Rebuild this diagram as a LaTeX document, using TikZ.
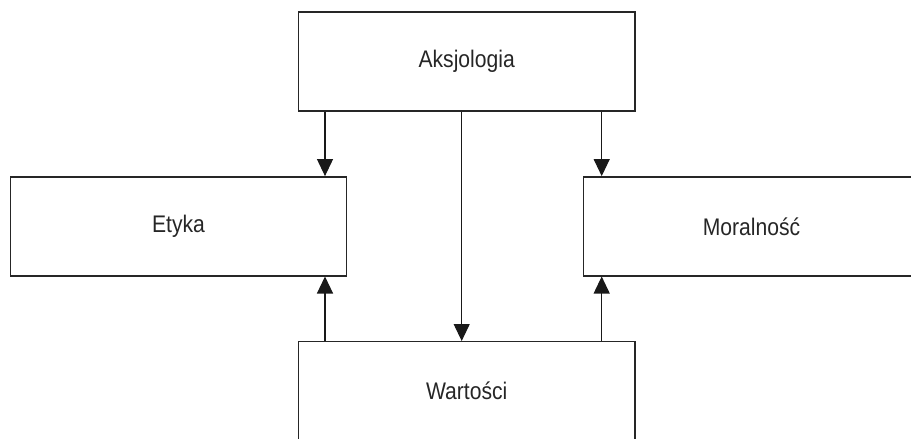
\documentclass[tikz,border=0pt]{standalone}
\usepackage{fontspec}
\setmainfont{Liberation Sans}[FakeStretch=0.88]
\usetikzlibrary{
  positioning,
  arrows.meta
}
\tikzset{
  box/.style={draw=black!85, line width=1.4pt, minimum width=336.5pt,
    minimum height=99pt, inner sep=0pt, text=black!85,
    font=\fontsize{24}{28}\selectfont},
  arr/.style={-{Triangle[length=17pt,width=16pt]}, line width=1.1pt, draw=black!90}
}

\begin{document}
\begin{tikzpicture}[x=1pt, y=-1pt]
    \clip (0,0) rectangle (911,439);
    \node[box] (aks) at (466.7,61.5) {Aksjologia};
    \node[box] (ety) at (178.5,226.3) {Etyka};
    \node[box] (mor) at (751.5,226.3) {Moralność};
    \node[box] (war) at (466.7,391.2) {Wartości};
    % pionowe linie strzalek
    \coordinate (xl) at (325,0);
    \coordinate (xm) at (461.7,0);
    \coordinate (xr) at (601.7,0);
    \draw[arr] (aks.south -| xl) -- (ety.north -| xl);
    \draw[arr] (aks.south -| xm) -- (war.north -| xm);
    \draw[arr] (aks.south -| xr) -- (mor.north -| xr);
    \draw[arr] (war.north -| xl) -- (ety.south -| xl);
    \draw[arr] (war.north -| xr) -- (mor.south -| xr);
  \end{tikzpicture}
\end{document}
